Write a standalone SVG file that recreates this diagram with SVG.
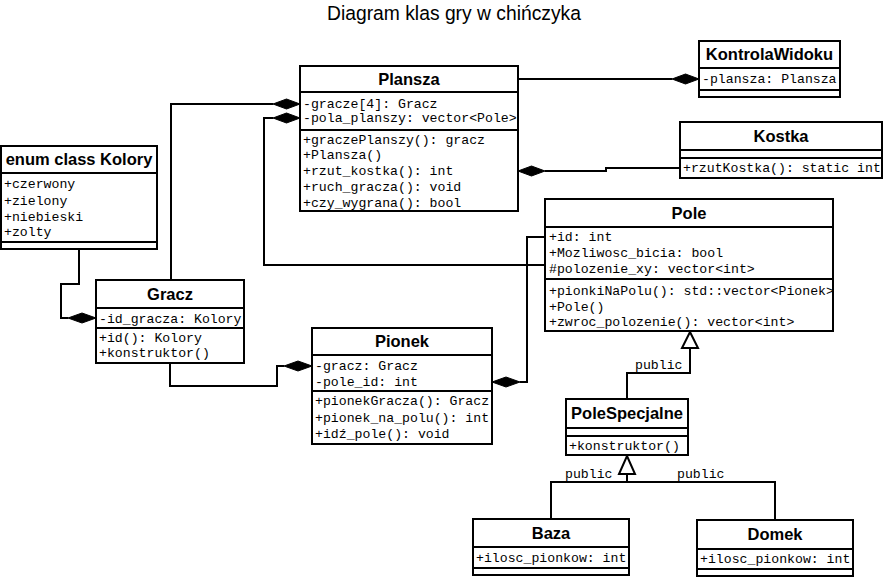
<svg xmlns="http://www.w3.org/2000/svg" width="883" height="577" viewBox="0 0 883 577">
<style>
.box{fill:#fff;stroke:#000;stroke-width:2}
.ln{fill:none;stroke:#000;stroke-width:2}
.dia{fill:#000;stroke:#000;stroke-width:1}
.tri{fill:#fff;stroke:#000;stroke-width:2}
.hd{font-family:"Liberation Sans",Arial,sans-serif;font-weight:bold;font-size:16.5px;text-anchor:middle;fill:#000}
.at{font-family:"Liberation Mono","Courier New",monospace;font-size:13.2px;fill:#000}
.title{font-family:"Liberation Sans",Arial,sans-serif;font-size:19.3px;text-anchor:middle;fill:#000}
</style>
<rect width="883" height="577" fill="#fff"/>
<text class="title" x="454" y="20">Diagram klas gry w chińczyka</text>

<g id="connectors">
  <line class="ln" x1="518" y1="79" x2="672" y2="79"/>
  <polygon class="dia" points="699,79 685.5,74 672,79 685.5,84"/>
  <polyline class="ln" points="680,168 606,168 606,171 545,171"/>
  <polygon class="dia" points="518,171 531.5,166 545,171 531.5,176"/>
  <polyline class="ln" points="273,104 171,104 171,280"/>
  <polygon class="dia" points="300,104 286.5,99 273,104 286.5,109"/>
  <polyline class="ln" points="273,118 264,118 264,265 545,265"/>
  <polygon class="dia" points="300,118 286.5,113 273,118 286.5,123"/>
  <polyline class="ln" points="545,237 527,237 527,382 520,382"/>
  <polygon class="dia" points="492,382 506,377 520,382 506,387"/>
  <polyline class="ln" points="170,363 170,386 277,386 277,366 284,366"/>
  <polygon class="dia" points="312,366 298,361 284,366 298,371"/>
  <polyline class="ln" points="79,249 79,284 61,284 61,318 68,318"/>
  <polygon class="dia" points="96,318 82,313 68,318 82,323"/>
  <polyline class="ln" points="690,348 690,373 627,373 627,399"/>
  <polygon class="tri" points="690,332 698,348 682,348"/>
  <text class="at" x="635" y="369">public</text>
  <polyline class="ln" points="627,474 627,482"/>
  <polyline class="ln" points="551,519 551,482 775,482 775,520"/>
  <polygon class="tri" points="627,456 635,474 619,474"/>
  <text class="at" x="565" y="478">public</text>
  <text class="at" x="677" y="478">public</text>
</g>

<g id="Plansza">
  <rect class="box" x="300" y="66" width="218" height="145"/>
  <line class="ln" x1="300" y1="92" x2="518" y2="92"/>
  <line class="ln" x1="300" y1="130" x2="518" y2="130"/>
  <text class="hd" x="409" y="85">Plansza</text>
  <text class="at" x="303" y="108">-gracze[4]: Gracz</text>
  <text class="at" x="303" y="122">-pola_planszy: vector&lt;Pole&gt;</text>
  <text class="at" x="303" y="144">+graczePlanszy(): gracz</text>
  <text class="at" x="303" y="159">+Plansza()</text>
  <text class="at" x="303" y="175">+rzut_kostka(): int</text>
  <text class="at" x="303" y="191">+ruch_gracza(): void</text>
  <text class="at" x="303" y="207">+czy_wygrana(): bool</text>
</g>

<g id="KontrolaWidoku">
  <rect class="box" x="699" y="41" width="141" height="56"/>
  <line class="ln" x1="699" y1="68" x2="840" y2="68"/>
  <line class="ln" x1="699" y1="90" x2="840" y2="90"/>
  <text class="hd" x="769.5" y="60">KontrolaWidoku</text>
  <text class="at" x="702" y="83">-plansza: Plansza</text>
</g>

<g id="Kostka">
  <rect class="box" x="680" y="122" width="202" height="56"/>
  <line class="ln" x1="680" y1="150" x2="882" y2="150"/>
  <line class="ln" x1="680" y1="158" x2="882" y2="158"/>
  <text class="hd" x="781" y="142">Kostka</text>
  <text class="at" x="683" y="172">+rzutKostka(): static int</text>
</g>

<g id="Kolory">
  <rect class="box" x="1" y="146" width="156" height="103"/>
  <line class="ln" x1="1" y1="173" x2="157" y2="173"/>
  <line class="ln" x1="1" y1="242" x2="157" y2="242"/>
  <text class="hd" x="79" y="165">enum class Kolory</text>
  <text class="at" x="4" y="188">+czerwony</text>
  <text class="at" x="4" y="205">+zielony</text>
  <text class="at" x="4" y="221">+niebieski</text>
  <text class="at" x="4" y="236">+zolty</text>
</g>

<g id="Gracz">
  <rect class="box" x="96" y="280" width="148" height="83"/>
  <line class="ln" x1="96" y1="308" x2="244" y2="308"/>
  <line class="ln" x1="96" y1="328" x2="244" y2="328"/>
  <text class="hd" x="170" y="300">Gracz</text>
  <text class="at" x="99" y="323">-id_gracza: Kolory</text>
  <text class="at" x="99" y="342">+id(): Kolory</text>
  <text class="at" x="99" y="357">+konstruktor()</text>
</g>

<g id="Pionek">
  <rect class="box" x="312" y="328" width="180" height="116"/>
  <line class="ln" x1="312" y1="355" x2="492" y2="355"/>
  <line class="ln" x1="312" y1="391" x2="492" y2="391"/>
  <text class="hd" x="402" y="347">Pionek</text>
  <text class="at" x="315" y="370">-gracz: Gracz</text>
  <text class="at" x="315" y="386">-pole_id: int</text>
  <text class="at" x="315" y="405">+pionekGracza(): Gracz</text>
  <text class="at" x="315" y="422">+pionek_na_polu(): int</text>
  <text class="at" x="315" y="438">+idź_pole(): void</text>
</g>

<g id="Pole">
  <rect class="box" x="545" y="199" width="288" height="132"/>
  <line class="ln" x1="545" y1="227" x2="833" y2="227"/>
  <line class="ln" x1="545" y1="279" x2="833" y2="279"/>
  <text class="hd" x="689" y="219">Pole</text>
  <text class="at" x="549" y="241">+id: int</text>
  <text class="at" x="549" y="257">+Mozliwosc_bicia: bool</text>
  <text class="at" x="549" y="273">#polozenie_xy: vector&lt;int&gt;</text>
  <text class="at" x="549" y="295">+pionkiNaPolu(): std::vector&lt;Pionek&gt;</text>
  <text class="at" x="549" y="311">+Pole()</text>
  <text class="at" x="549" y="326">+zwroc_polozenie(): vector&lt;int&gt;</text>
</g>

<g id="PoleSpecjalne">
  <rect class="box" x="566" y="399" width="122" height="56"/>
  <line class="ln" x1="566" y1="428" x2="688" y2="428"/>
  <line class="ln" x1="566" y1="436" x2="688" y2="436"/>
  <text class="hd" x="627" y="419">PoleSpecjalne</text>
  <text class="at" x="569" y="450">+konstruktor()</text>
</g>

<g id="Baza">
  <rect class="box" x="473" y="519" width="156" height="56"/>
  <line class="ln" x1="473" y1="547" x2="629" y2="547"/>
  <line class="ln" x1="473" y1="568" x2="629" y2="568"/>
  <text class="hd" x="551" y="539">Baza</text>
  <text class="at" x="476" y="562">+ilosc_pionkow: int</text>
</g>

<g id="Domek">
  <rect class="box" x="697" y="520" width="156" height="56"/>
  <line class="ln" x1="697" y1="549" x2="853" y2="549"/>
  <line class="ln" x1="697" y1="569" x2="853" y2="569"/>
  <text class="hd" x="775" y="540">Domek</text>
  <text class="at" x="700" y="563">+ilosc_pionkow: int</text>
</g>
</svg>
